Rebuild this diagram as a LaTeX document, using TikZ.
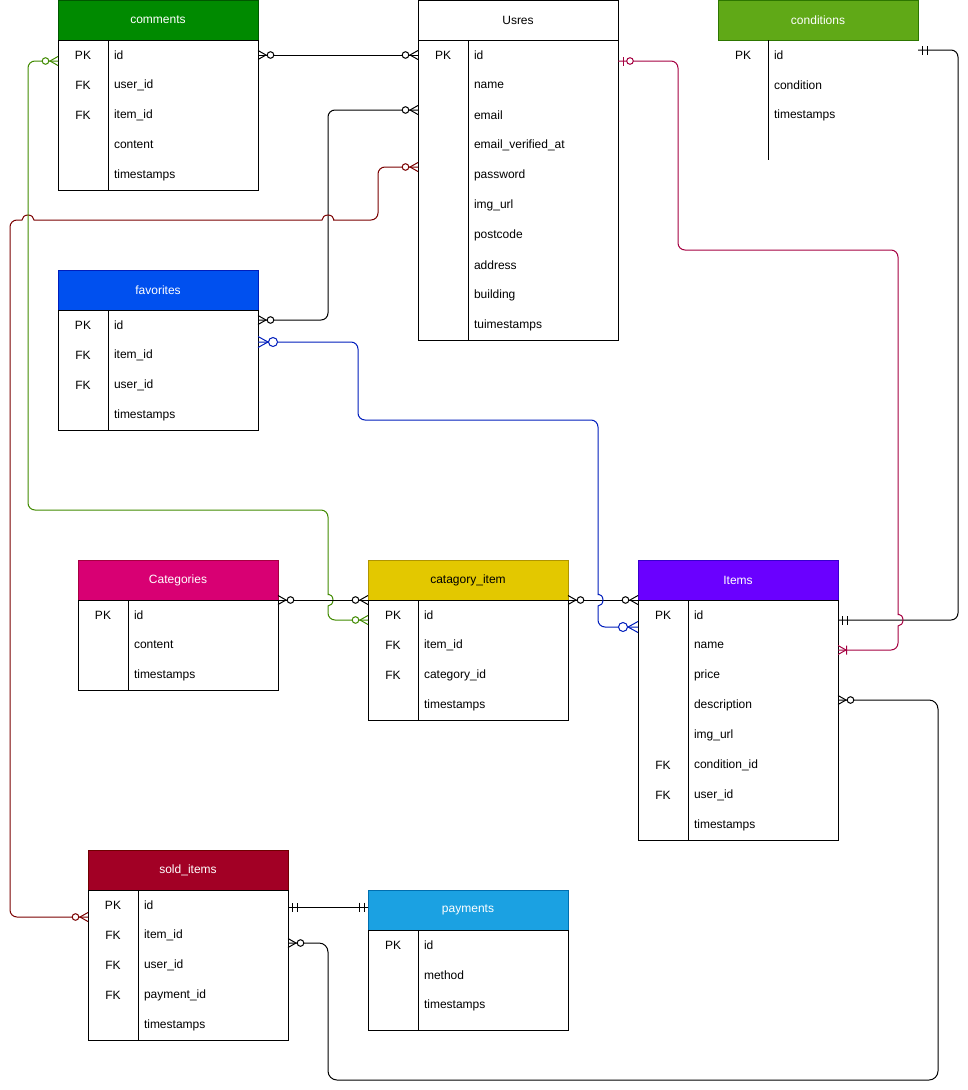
\documentclass[tikz,border=0pt]{standalone}
\usepackage{fontspec}
\setmainfont{Liberation Sans}
\usetikzlibrary{calc}

\definecolor{comfill}{HTML}{008A00}
\definecolor{comline}{HTML}{005700}
\definecolor{favfill}{HTML}{0050EF}
\definecolor{favline}{HTML}{001DBC}
\definecolor{catfill}{HTML}{D80073}
\definecolor{catline}{HTML}{A50040}
\definecolor{cifill}{HTML}{E3C800}
\definecolor{ciline}{HTML}{B09500}
\definecolor{itemfill}{HTML}{6A00FF}
\definecolor{itemline}{HTML}{3700CC}
\definecolor{soldfill}{HTML}{A20025}
\definecolor{soldline}{HTML}{6F0000}
\definecolor{payfill}{HTML}{1BA1E2}
\definecolor{payline}{HTML}{006EAF}
\definecolor{condfill}{HTML}{60A917}
\definecolor{condline}{HTML}{2D7600}
\definecolor{redline}{HTML}{7A0000}
\definecolor{greenline}{HTML}{408A00}
\definecolor{blueline}{HTML}{001DBC}
\definecolor{pinkline}{HTML}{A50040}

% zero or many
\pgfdeclarearrow{
    name=zmany,
    setup code={\pgfarrowssettipend{0pt}\pgfarrowssetlineend{0pt}\pgfarrowssetbackend{-16pt}},
    drawing code={
        \pgfpathmoveto{\pgfqpoint{0pt}{4.5pt}}\pgfpathlineto{\pgfqpoint{-8pt}{0pt}}\pgfpathlineto{\pgfqpoint{0pt}{-4.5pt}}
        \pgfusepathqstroke
        \pgfsetfillcolor{white}
        \pgfpathcircle{\pgfqpoint{-12.5pt}{0pt}}{3.3pt}
        \pgfusepathqfillstroke}
}
\pgfdeclarearrow{
    name=zmanyb,
    setup code={\pgfarrowssettipend{0pt}\pgfarrowssetlineend{0pt}\pgfarrowssetbackend{-20pt}},
    drawing code={
        \pgfpathmoveto{\pgfqpoint{0pt}{5.5pt}}\pgfpathlineto{\pgfqpoint{-10pt}{0pt}}\pgfpathlineto{\pgfqpoint{0pt}{-5.5pt}}
        \pgfusepathqstroke
        \pgfsetfillcolor{white}
        \pgfpathcircle{\pgfqpoint{-15pt}{0pt}}{4.5pt}
        \pgfusepathqfillstroke}
}
% zero or one
\pgfdeclarearrow{
    name=zone,
    setup code={\pgfarrowssettipend{0pt}\pgfarrowssetlineend{0pt}\pgfarrowssetbackend{-16pt}},
    drawing code={
        \pgfpathmoveto{\pgfqpoint{-5pt}{4.5pt}}\pgfpathlineto{\pgfqpoint{-5pt}{-4.5pt}}
        \pgfusepathqstroke
        \pgfsetfillcolor{white}
        \pgfpathcircle{\pgfqpoint{-12pt}{0pt}}{3.3pt}
        \pgfusepathqfillstroke}
}
% one and only one
\pgfdeclarearrow{
    name=oone,
    setup code={\pgfarrowssettipend{0pt}\pgfarrowssetlineend{0pt}\pgfarrowssetbackend{-10pt}},
    drawing code={
        \pgfpathmoveto{\pgfqpoint{-4pt}{4.5pt}}\pgfpathlineto{\pgfqpoint{-4pt}{-4.5pt}}
        \pgfpathmoveto{\pgfqpoint{-9pt}{4.5pt}}\pgfpathlineto{\pgfqpoint{-9pt}{-4.5pt}}
        \pgfusepathqstroke}
}
% one or many
\pgfdeclarearrow{
    name=omany,
    setup code={\pgfarrowssettipend{0pt}\pgfarrowssetlineend{0pt}\pgfarrowssetbackend{-10pt}},
    drawing code={
        \pgfpathmoveto{\pgfqpoint{0pt}{4.5pt}}\pgfpathlineto{\pgfqpoint{-8pt}{0pt}}\pgfpathlineto{\pgfqpoint{0pt}{-4.5pt}}
        \pgfpathmoveto{\pgfqpoint{-8.5pt}{4.5pt}}\pgfpathlineto{\pgfqpoint{-8.5pt}{-4.5pt}}
        \pgfusepathqstroke}
}

\begin{document}
\begin{tikzpicture}
[
    x=1pt, y=-1pt, line width=1pt,
    every node/.style={font=\fontsize{12}{14}\selectfont, outer sep=0pt},
    hdr/.style={anchor=north west, draw, minimum width=200, minimum height=40, inner sep=0pt, text=white},
    tbody/.style={anchor=north west, draw=black, minimum width=200, inner sep=0pt},
    field/.style={anchor=west, inner sep=0pt},
    rel/.style={rounded corners=7pt},
]
\useasboundingbox (0,0) rectangle (968,1090);

% comments
\node[hdr, fill=comfill, draw=comline] (comments) at (58,0) {comments};
\node[tbody, minimum height=150] (comments-b) at (comments.south west) {};
\draw (comments-b.north west) ++(50,0) -- ++(0,150);
\foreach \k/\f [count=\i] in {PK/id, FK/user\_id, FK/item\_id, /content, /timestamps}{
    \node at ($(comments-b.north west)+(25,30*\i-15)$) {\k};
    \node[field] (comments-\i) at ($(comments-b.north west)+(56,30*\i-15)$) {\f};
}

% users
\node[hdr, fill=white, draw=black, text=black] (users) at (418,0) {Usres};
\node[tbody, minimum height=300] (users-b) at (users.south west) {};
\draw (users-b.north west) ++(50,0) -- ++(0,300);
\foreach \k/\f [count=\i] in {PK/id, /name, /email, /email\_verified\_at, /password, /img\_url, /postcode, /address, /building, /tuimestamps}{
    \node at ($(users-b.north west)+(25,30*\i-15)$) {\k};
    \node[field] (users-\i) at ($(users-b.north west)+(56,30*\i-15)$) {\f};
}

% conditions
\node[hdr, fill=condfill, draw=condline] (conditions) at (718,0) {conditions};
\draw (conditions.south west) ++(50,0) -- ++(0,120);
\foreach \k/\f [count=\i] in {PK/id, /condition, /timestamps}{
    \node at ($(conditions.south west)+(25,30*\i-15)$) {\k};
    \node[field] (conditions-\i) at ($(conditions.south west)+(56,30*\i-15)$) {\f};
}

% favorites
\node[hdr, fill=favfill, draw=favline] (favorites) at (58,270) {favorites};
\node[tbody, minimum height=120] (favorites-b) at (favorites.south west) {};
\draw (favorites-b.north west) ++(50,0) -- ++(0,120);
\foreach \k/\f [count=\i] in {PK/id, FK/item\_id, FK/user\_id, /timestamps}{
    \node at ($(favorites-b.north west)+(25,30*\i-15)$) {\k};
    \node[field] (favorites-\i) at ($(favorites-b.north west)+(56,30*\i-15)$) {\f};
}

% categories
\node[hdr, fill=catfill, draw=catline] (categories) at (78,560) {Categories};
\node[tbody, minimum height=90] (categories-b) at (categories.south west) {};
\draw (categories-b.north west) ++(50,0) -- ++(0,90);
\foreach \k/\f [count=\i] in {PK/id, /content, /timestamps}{
    \node at ($(categories-b.north west)+(25,30*\i-15)$) {\k};
    \node[field] (categories-\i) at ($(categories-b.north west)+(56,30*\i-15)$) {\f};
}

% catagory_item
\node[hdr, fill=cifill, draw=ciline, text=black] (catitem) at (368,560) {catagory\_item};
\node[tbody, minimum height=120] (catitem-b) at (catitem.south west) {};
\draw (catitem-b.north west) ++(50,0) -- ++(0,120);
\foreach \k/\f [count=\i] in {PK/id, FK/item\_id, FK/category\_id, /timestamps}{
    \node at ($(catitem-b.north west)+(25,30*\i-15)$) {\k};
    \node[field] (catitem-\i) at ($(catitem-b.north west)+(56,30*\i-15)$) {\f};
}

% items
\node[hdr, fill=itemfill, draw=itemline] (items) at (638,560) {Items};
\node[tbody, minimum height=240] (items-b) at (items.south west) {};
\draw (items-b.north west) ++(50,0) -- ++(0,240);
\foreach \k/\f [count=\i] in {PK/id, /name, /price, /description, /img\_url, FK/condition\_id, FK/user\_id, /timestamps}{
    \node at ($(items-b.north west)+(25,30*\i-15)$) {\k};
    \node[field] (items-\i) at ($(items-b.north west)+(56,30*\i-15)$) {\f};
}

% sold_items
\node[hdr, fill=soldfill, draw=soldline] (sold) at (88,850) {sold\_items};
\node[tbody, minimum height=150] (sold-b) at (sold.south west) {};
\draw (sold-b.north west) ++(50,0) -- ++(0,150);
\foreach \k/\f [count=\i] in {PK/id, FK/item\_id, FK/user\_id, FK/payment\_id, /timestamps}{
    \node at ($(sold-b.north west)+(25,30*\i-15)$) {\k};
    \node[field] (sold-\i) at ($(sold-b.north west)+(56,30*\i-15)$) {\f};
}

% payments
\node[hdr, fill=payfill, draw=payline] (payments) at (368,890) {payments};
\node[tbody, minimum height=100] (payments-b) at (payments.south west) {};
\draw (payments-b.north west) ++(50,0) -- ++(0,100);
\foreach \k/\f [count=\i] in {PK/id, /method, /timestamps}{
    \node at ($(payments-b.north west)+(25,30*\i-15)$) {\k};
    \node[field] (payments-\i) at ($(payments-b.north west)+(56,30*\i-15)$) {\f};
}

% relations
\draw[rel, zmany-zmany] (comments-b.east |- comments-1) -- (users-b.west |- comments-1);
\draw[rel, zmany-zmany] ([yshift=5pt]users-b.west |- users-3) -- ++(-90,0) |- ([yshift=5pt]favorites-b.east |- favorites-1);
\draw[rel, draw=redline, zmany-zmany] ([yshift=8pt]users-b.west |- users-5) -- ++(-40,0) |- (340,220)
    [sharp corners] -- (334,220) arc[start angle=0, end angle=180, x radius=6pt, y radius=5pt]
    -- (34,220) arc[start angle=0, end angle=180, x radius=6pt, y radius=5pt]
    -- (16,220) [rounded corners=7pt] -- (10,220) |- ([yshift=-12pt]sold-b.west |- sold-1);
\draw[rel, draw=greenline, zmany-zmany] ([yshift=-6pt]comments-b.west |- comments-1) -- ++(-30,0) |- (328,510) -- (328,588)
    [sharp corners] -- (328,594) arc[start angle=90, end angle=-90, x radius=5pt, y radius=6pt]
    -- (328,612) [rounded corners=7pt] |- ([yshift=-5pt]catitem-b.west |- catitem-1);
\draw[rel, zmany-zmany] (categories.south east) -- (catitem.south west);
\draw[rel, zmany-zmany] (catitem.south east) -- (items.south west);
\draw[rel, draw=blueline, zmanyb-zmanyb] ([yshift=13pt]favorites-b.east |- favorites-2) -- ++(100,0) |- (598,420) -- (598,588)
    [sharp corners] -- (598,594) arc[start angle=90, end angle=-90, x radius=5pt, y radius=6pt]
    -- (598,612) [rounded corners=7pt] |- ([yshift=-12pt]items-b.west |- items-1);
\draw[rel, oone-oone] ([yshift=5pt]conditions.east |- conditions-1) -- ++(40,0) |- ([yshift=-5pt]items-b.east |- items-1);
\draw[rel, draw=pinkline, zone-omany] ([yshift=-6pt]users-b.east |- users-1) -- ++(60,0) |- (898,250) -- (898,608)
    [sharp corners] -- (898,614) arc[start angle=90, end angle=-90, x radius=5pt, y radius=6pt]
    -- (898,632) [rounded corners=7pt] |- ([yshift=-5pt]items-b.east |- items-2);
\draw[rel, oone-oone] ([yshift=3pt]sold-b.east |- payments.west) -- ([yshift=3pt]payments.west);
\draw[rel, rounded corners=9pt, zmany-zmany] ([yshift=-8pt]sold-b.east |- sold-2) -- ++(40,0) |- (938,1080) |- ([yshift=5pt]items-b.east |- items-4);
\end{tikzpicture}
\end{document}
